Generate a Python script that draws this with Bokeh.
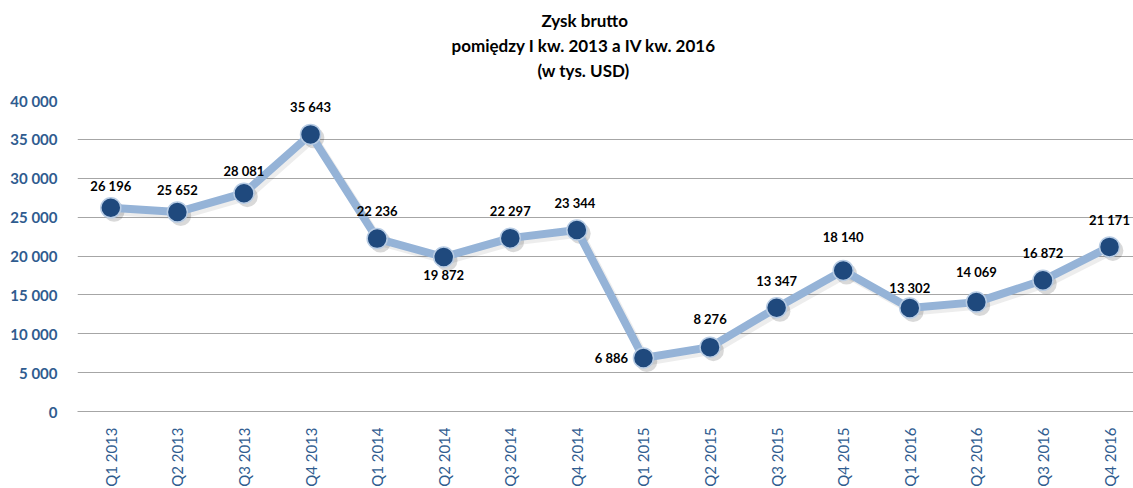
from bokeh.plotting import figure
from bokeh.models import ColumnDataSource, Range1d, FixedTicker, Title, LabelSet
from bokeh.core.properties import value
from bokeh.embed import file_html
from bokeh.resources import INLINE
import math

quarters = ["Q1 2013", "Q2 2013", "Q3 2013", "Q4 2013",
            "Q1 2014", "Q2 2014", "Q3 2014", "Q4 2014",
            "Q1 2015", "Q2 2015", "Q3 2015", "Q4 2015",
            "Q1 2016", "Q2 2016", "Q3 2016", "Q4 2016"]
profit = [26196, 25652, 28081, 35643, 22236, 19872, 22297, 23344,
          6886, 8276, 13347, 18140, 13302, 14069, 16872, 21171]
labels = ["26 196", "25 652", "28 081", "35 643", "22 236", "19 872", "22 297", "23 344",
          "6 886", "8 276", "13 347", "18 140", "13 302", "14 069", "16 872", "21 171"]
# label offsets in screen pixels
lab_dx = [0, 0, 0, 0, 0, 0, 0, -2, -32, 0, 0, 0, 0, 0, 0, 0]
lab_dy = [22, 22, 22, 27, 28, -18, 27, 27, 0, 28, 27, 33, 20, 30, 27, 27]
y_ticks = [0, 5000, 10000, 15000, 20000, 25000, 30000, 35000, 40000]
y_tick_labels = ["0", "5 000", "10 000", "15 000", "20 000", "25 000", "30 000", "35 000", "40 000"]
title_lines = ["(w tys. USD)", "pomiędzy I kw. 2013 a IV kw. 2016", "Zysk brutto"]
title_offsets = [460, 374, 464]  # left offsets (px) so the block is centred at x≈583

xs = list(range(len(quarters)))
src = ColumnDataSource(dict(x=xs, y=profit, lab=labels, dx=lab_dx, dy=lab_dy,
                            xs_=[v + 0.05 for v in xs], ys_=[v - 450 for v in profit]))

p = figure(frame_width=1056, frame_height=311, output_backend="svg", toolbar_location=None,
           x_range=Range1d(-0.5, 15.36), y_range=Range1d(0, 40000),
           min_border_left=77, min_border_right=0, min_border_top=100, min_border_bottom=0)
p.outline_line_color = None
p.background_fill_color = "white"

# title (added from the plot upward; first one is a spacer)
p.add_layout(Title(text=" ", text_font_size="15px", standoff=0), "above")
for txt, off in zip(title_lines, title_offsets):
    t = Title(text=txt, align="left", text_font="Lato", text_font_size="17px",
              text_font_style="bold", text_color="#000000", standoff=2, offset=off)
    p.add_layout(t, "above")
p.title.visible = False

# grid
p.xgrid.grid_line_color = None
p.ygrid.grid_line_color = "#A6A6A6"
p.ygrid.grid_line_width = 1
p.ygrid.ticker = FixedTicker(ticks=y_ticks)

# axes
p.yaxis.ticker = FixedTicker(ticks=y_ticks)
p.yaxis.major_label_overrides = {t: l for t, l in zip(y_ticks, y_tick_labels)}
p.yaxis.axis_line_color = None
p.yaxis.major_tick_line_color = None
p.yaxis.minor_tick_line_color = None
p.yaxis.major_label_text_font = "Lato"
p.yaxis.major_label_text_font_size = "15px"
p.yaxis.major_label_text_font_style = "bold"
p.yaxis.major_label_text_color = "#2F5C8F"
p.yaxis.major_label_standoff = 14

p.xaxis.ticker = FixedTicker(ticks=xs)
p.xaxis.major_label_overrides = {i: q for i, q in enumerate(quarters)}
p.xaxis.major_label_orientation = math.pi / 2
p.xaxis.axis_line_color = "#A6A6A6"
p.xaxis.major_tick_line_color = None
p.xaxis.minor_tick_line_color = None
p.xaxis.major_label_text_font = "Lato"
p.xaxis.major_label_text_font_size = "15px"
p.xaxis.major_label_text_color = "#2F5C8F"
p.xaxis.major_label_standoff = 10

# shadow
p.line("xs_", "ys_", source=src, line_color="#000000", line_alpha=0.07, line_width=8)
p.scatter("xs_", "ys_", source=src, size=21, fill_color="#000000", fill_alpha=0.15, line_color=None)
# line & markers
p.line("x", "y", source=src, line_color="#95B3D7", line_width=8, line_join="round")
p.scatter("x", "y", source=src, size=20, fill_color="#1F497D", line_color="#B8CCE4", line_width=1.5)

lbl = LabelSet(x="x", y="y", text="lab", x_offset="dx", y_offset="dy", source=src,
               text_align="center", text_baseline="middle", text_font=value("Lato"),
               text_font_size=value("13px"), text_font_style="bold", text_color="#000000")
p.add_layout(lbl)

open("out.html", "w").write(file_html(p, INLINE))
